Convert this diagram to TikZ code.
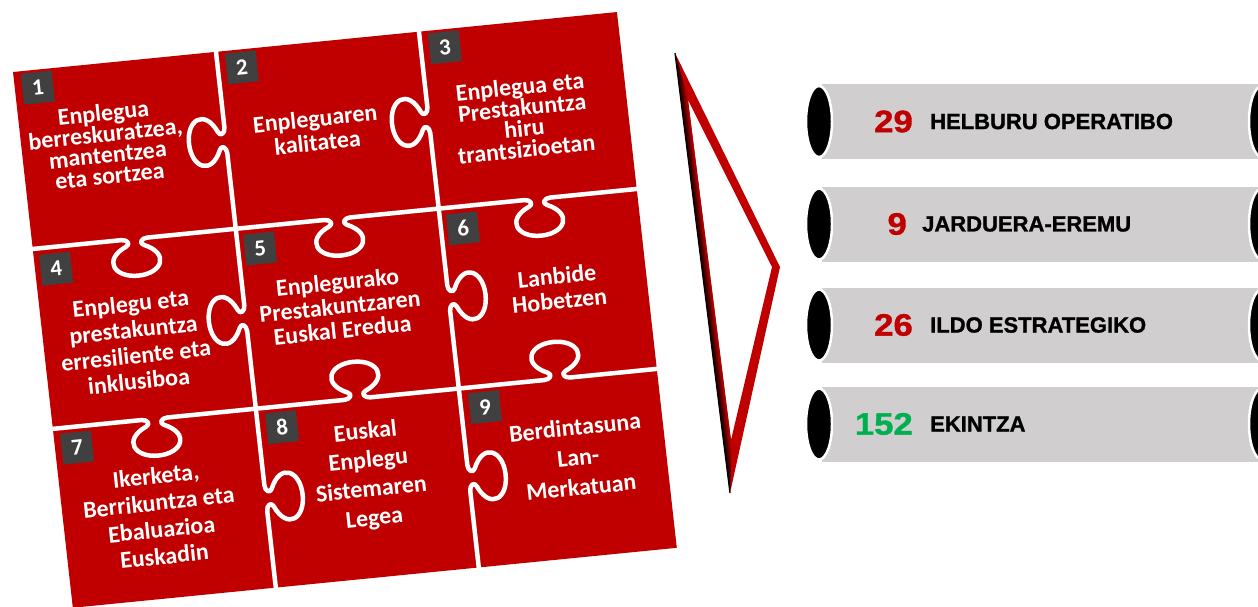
\documentclass[tikz,border=0pt]{standalone}
\usepackage{fontspec}
\usetikzlibrary{calc}
\newfontfamily\puzzlefont{Carlito}
\newfontfamily\barfont{Liberation Sans}[BoldFeatures={FakeBold=1.2}]
\newfontfamily\numfont{Liberation Sans}[BoldFeatures={FakeBold=1.2, FakeStretch=1.12}]
\definecolor{puzred}{HTML}{C00000}
\definecolor{boxgray}{HTML}{404040}
\definecolor{bargray}{HTML}{D0CECE}
\definecolor{numgreen}{HTML}{00B050}

\begin{document}
\begin{tikzpicture}[x=1pt, y=-1pt,
    seam/.style={white, line width=4.5pt, line cap=round, line join=round},
    numbox/.style={fill=boxgray, text=white, minimum size=31pt, inner sep=0pt, rotate=6,
      font=\puzzlefont\bfseries\fontsize{23}{23}\selectfont},
    piecetext/.style={text=white, align=center, inner sep=0pt, rotate=6,
      font=\puzzlefont\bfseries\fontsize{24}{#1}\selectfont},
    piecetext/.default=24,
    capend/.style={fill=black, draw=white, line width=2.5pt},
    barnum/.style={anchor=east, inner sep=0pt, font=\numfont\bfseries\fontsize{31}{31}\selectfont},
    barlabel/.style={anchor=west, inner sep=0pt, font=\barfont\bfseries\fontsize{22}{22}\selectfont}]
    \useasboundingbox (0,0) rectangle (1258,606);

    % puzzle, in its own tilted frame
    \begin{scope}[shift={(13,72)}, x={(0.995pt,0.0988pt)}, y={(0.111pt,-0.994pt)}]
        \fill[puzred] (0,0) -- (607,0) -- (607,539) -- (0,539) -- cycle;
        \foreach \yy/\da/\db/\dc in {178/1/1/1, 359/1/-1/-1} {
            \draw[seam] (-6,\yy) \foreach \kx/\d in {102/\da, 306/\db, 507/\dc} {
                -- ({\kx-13},\yy) .. controls ({\kx-7},\yy) and ({\kx-4},{\yy+5*\d}) .. ({\kx-9},{\yy+7*\d})
                .. controls ({\kx-34},{\yy+18*\d}) and ({\kx-24},{\yy+37*\d}) .. (\kx,{\yy+37*\d})
                .. controls ({\kx+24},{\yy+37*\d}) and ({\kx+34},{\yy+18*\d}) .. ({\kx+9},{\yy+7*\d})
                .. controls ({\kx+4},{\yy+5*\d}) and ({\kx+7},\yy) .. ({\kx+13},\yy)
            } -- (613,\yy);
        }
        \foreach \xx/\da/\db/\dc in {204/-1/-1/1, 408/-1/1/1} {
            \draw[seam] (\xx,-6) \foreach \ky/\d in {89/\da, 268/\db, 449/\dc} {
                -- (\xx,{\ky-13}) .. controls (\xx,{\ky-7}) and ({\xx+5*\d},{\ky-4}) .. ({\xx+7*\d},{\ky-9})
                .. controls ({\xx+18*\d},{\ky-34}) and ({\xx+37*\d},{\ky-24}) .. ({\xx+37*\d},\ky)
                .. controls ({\xx+37*\d},{\ky+24}) and ({\xx+18*\d},{\ky+34}) .. ({\xx+7*\d},{\ky+9})
                .. controls ({\xx+5*\d},{\ky+4}) and (\xx,{\ky+7}) .. (\xx,{\ky+13})
            } -- (\xx,545);
        }
        \foreach \bx/\by [count=\i] in {23/18, 228/18, 432/18, 21/200, 226/200, 430/200, 22/380, 228/380, 432/380}
            \node[numbox] (b\i) at (\bx,\by) {\i};
        \node[piecetext=21] (t1) at (85,81) {Enplegua\\berreskuratzea,\\mantentzea\\eta sortzea};
        \node[piecetext=24] (t2) at (295,88) {Enpleguaren\\kalitatea};
        \node[piecetext=21] (t3) at (502,96) {Enplegua eta\\Prestakuntza\\hiru\\trantsizioetan};
        \node[piecetext=26] (t4) at (91,281) {Enplegu eta\\prestakuntza\\erresiliente eta\\inklusiboa};
        \node[piecetext=24] (t5) at (299,265) {Enplegurako\\Prestakuntzaren\\Euskal Eredua};
        \node[piecetext=25] (t6) at (518,269) {Lanbide\\Hobetzen};
        \node[piecetext=27] (t7) at (97,456) {Ikerketa,\\Berrikuntza eta\\Ebaluazioa\\Euskadin};
        \node[piecetext=29] (t8) at (310,437) {Euskal\\Enplegu\\Sistemaren\\Legea};
        \node[piecetext=30] (t9) at (519,439) {Berdintasuna\\Lan-\\Merkatuan};
    \end{scope}

    % zoom wedge
    \coordinate (ot) at (675,53);
    \coordinate (or) at (780,267);
    \coordinate (ob) at (730,493);
    \coordinate (it) at (688,100);
    \coordinate (ir) at (772,267);
    \coordinate (ib) at (731,440);
    \fill[puzred, even odd rule] (ot) -- (or) -- (ob) -- cycle (it) -- (ir) -- (ib) -- cycle;
    \foreach \f in {0,0.1,...,1.0} {
        \pgfmathsetmacro\mix{100*\f}
        \draw[line width=1.3pt, puzred!\mix!black] ($(ot)!\f!(it)$) -- ($(ob)!\f!(ib)$);
    }

    % bars
    \foreach \yc/\nm/\lb/\nc/\nx/\lx [count=\i] in {121.5/29/HELBURU OPERATIBO/puzred/913/930,
            224/9/JARDUERA-EREMU/puzred/907/922,
            325/26/ILDO ESTRATEGIKO/puzred/913/930,
            424/152/EKINTZA/numgreen/913/930} {
        \fill[bargray] (822,{\yc-37.5}) rectangle (1262,{\yc+37.5});
        \draw[capend] (819,\yc) ellipse [x radius=13, y radius=35.5];
        \draw[capend] (1262,\yc) ellipse [x radius=13, y radius=35.5];
        \node[barnum, text=\nc] (num\i) at (\nx,\yc) {\nm};
        \node[barlabel] (lbl\i) at (\lx,\yc) {\lb};
    }
\end{tikzpicture}
\end{document}
